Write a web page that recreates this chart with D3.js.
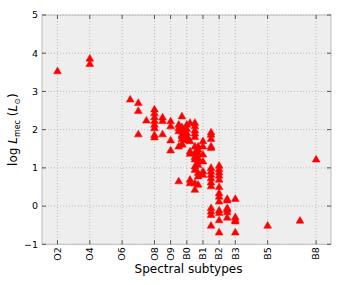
<!DOCTYPE html>
<meta charset="utf-8">
<head>
    <title>Spectral subtypes vs log L</title>
</head>
<script src="https://d3js.org/d3.v7.min.js"></script>
<style>
  body { margin: 0; background: #fff; }
  text { font-family: "DejaVu Sans", sans-serif; }
</style>
<div id="my_dataviz"></div>
<script>

// spectral subtype positions (O2 = 2 ... B0 = 10 ... B8 = 18)
var subtype = [2, 4, 4, 6.5, 7, 7, 7, 7.5,
  8, 8, 8, 8, 8, 8, 8, 8,
  8.5, 8.5, 8.5, 9, 9, 9, 9,
  9.5, 9.5, 9.5, 9.5, 9.5,
  9.7, 9.7, 9.7, 9.7, 9.7, 9.7, 9.7, 9.7,
  10, 10, 10, 10, 10, 10.1,
  10.2, 10.2, 10.2, 10.2, 10.2, 10.2,
  10.5, 10.5, 10.5, 10.5, 10.5, 10.5, 10.5, 10.5, 10.5, 10.5, 10.5, 10.5, 10.5,
  10.7, 10.7, 10.7, 10.7, 10.7, 10.7, 10.7, 10.7, 10.7,
  11, 11, 11, 11, 11, 11,
  11.5, 11.5, 11.5, 11.5, 11.5, 11.5, 11.5, 11.5, 11.5, 11.5, 11.5, 11.5, 11.5, 11.5, 11.5,
  12, 12, 12, 12, 12, 12, 12, 12, 12, 12, 12, 12, 12,
  12.5, 12.5, 12.5, 12.5, 12.5, 12.5,
  13, 13, 13, 13, 13,
  15, 17, 18];

// log L_mec values, same order as subtype
var logL = [3.52, 3.85, 3.71, 2.78, 2.69, 2.48, 1.87, 2.23,
  2.52, 2.42, 2.32, 2.22, 2.12, 2.03, 1.85, 1.79,
  2.31, 2.22, 1.87, 2.21, 2.08, 1.71, 1.45,
  2.12, 2.03, 1.95, 1.55, 0.64,
  2.34, 2.06, 1.95, 1.86, 1.82, 1.75, 1.62, 1.60,
  2.12, 2.01, 1.90, 1.82, 1.73, 1.71,
  2.17, 1.69, 1.42, 1.36, 0.68, 0.59,
  2.17, 2.08, 1.97, 1.89, 1.80, 1.55, 1.38, 1.28, 1.21, 1.03, 0.94, 0.59, 0.42,
  1.55, 1.47, 1.38, 1.25, 1.16, 1.07, 0.86, 0.77, 0.55,
  1.69, 1.55, 1.34, 1.16, 0.90, 0.81,
  1.92, 1.86, 1.75, 1.55, 1.51, 0.99, 0.90, 0.81, 0.72, 0.61, 0.51, -0.06, -0.15, -0.24, -0.52,
  1.05, 0.96, 0.87, 0.79, 0.68, 0.49, 0.33, 0.24, 0.11, -0.12, -0.19, -0.38, -0.70,
  0.18, 0.14, -0.06, -0.10, -0.17, -0.31,
  0.18, -0.30, -0.37, -0.41, -0.70,
  -0.52, -0.39, 1.21];

var xTickValues = [2, 4, 6, 8, 9, 10, 11, 12, 13, 15, 18];
var xTickLabels = ["O2", "O4", "O6", "O8", "O9", "B0", "B1", "B2", "B3", "B5", "B8"];
var yTickValues = [-1, 0, 1, 2, 3, 4, 5];

var width = 342,
    height = 285;

var svg = d3.select("#my_dataviz")
  .append("svg")
    .attr("width", width)
    .attr("height", height);

var xScale = d3.scaleLinear().domain([1, 19]).range([41.3, 332.3]);
var yScale = d3.scaleLinear().domain([-1, 5]).range([244.3, 15]);

var x0 = 42, x1 = 331, y0 = 15, y1 = 244.3;

// background
svg.append("rect")
  .attr("x", x0).attr("y", y0)
  .attr("width", x1 - x0).attr("height", y1 - y0)
  .attr("fill", "#eeeeee");

// grid
svg.selectAll(".vgrid").data(xTickValues).enter().append("line")
  .attr("x1", function(d){ return xScale(d) }).attr("x2", function(d){ return xScale(d) })
  .attr("y1", y0).attr("y2", y1)
  .attr("stroke", "#b0b0b0").attr("stroke-width", 0.8)
  .attr("stroke-dasharray", "1,2");
svg.selectAll(".hgrid").data(yTickValues).enter().append("line")
  .attr("y1", function(d){ return yScale(d) }).attr("y2", function(d){ return yScale(d) })
  .attr("x1", x0).attr("x2", x1)
  .attr("stroke", "#b0b0b0").attr("stroke-width", 0.8)
  .attr("stroke-dasharray", "1,2");

// points
var pts = d3.range(subtype.length);
svg.selectAll(".pt").data(pts).enter().append("path")
  .attr("d", d3.symbol().type(d3.symbolTriangle).size(26))
  .attr("transform", function(i){ return "translate(" + xScale(subtype[i]) + "," + yScale(logL[i]) + ")" })
  .attr("fill", "red")
  .attr("stroke", "red")
  .attr("stroke-width", 0.5);

// frame
svg.append("rect")
  .attr("x", x0).attr("y", y0)
  .attr("width", x1 - x0).attr("height", y1 - y0)
  .attr("fill", "none")
  .attr("stroke", "#bcbcbc").attr("stroke-width", 1);

// inward ticks on all sides
var tl = 4;
xTickValues.forEach(function(d){
  svg.append("line").attr("x1", xScale(d)).attr("x2", xScale(d))
    .attr("y1", y1).attr("y2", y1 - tl).attr("stroke", "#555");
  svg.append("line").attr("x1", xScale(d)).attr("x2", xScale(d))
    .attr("y1", y0).attr("y2", y0 + tl).attr("stroke", "#555");
});
yTickValues.forEach(function(d){
  svg.append("line").attr("y1", yScale(d)).attr("y2", yScale(d))
    .attr("x1", x0).attr("x2", x0 + tl).attr("stroke", "#555");
  svg.append("line").attr("y1", yScale(d)).attr("y2", yScale(d))
    .attr("x1", x1).attr("x2", x1 - tl).attr("stroke", "#555");
});

// tick labels
svg.selectAll(".xlab").data(xTickValues).enter().append("text")
  .attr("transform", function(d){ return "translate(" + xScale(d) + "," + (y1 + 3) + ") rotate(-90)" })
  .attr("text-anchor", "end")
  .attr("dy", "0.35em")
  .style("font-size", "9.5px")
  .text(function(d, i){ return xTickLabels[i] });

svg.selectAll(".ylab").data(yTickValues).enter().append("text")
  .attr("x", x0 - 4)
  .attr("y", function(d){ return yScale(d) })
  .attr("dy", "0.35em")
  .attr("text-anchor", "end")
  .style("font-size", "9.5px")
  .text(function(d){ return d < 0 ? "\u2212" + Math.abs(d) : d });

// axis labels
svg.append("text")
  .attr("x", (x0 + x1) / 2 + 2)
  .attr("y", 273)
  .attr("text-anchor", "middle")
  .style("font-size", "12px")
  .text("Spectral subtypes");

var ylab = svg.append("text")
  .attr("transform", "translate(17," + ((y0 + y1) / 2) + ") rotate(-90)")
  .attr("text-anchor", "middle")
  .style("font-size", "12px");
ylab.append("tspan").text("log ");
ylab.append("tspan").style("font-style", "italic").text("L");
ylab.append("tspan").attr("dy", 3).style("font-size", "8px").text("mec");
ylab.append("tspan").attr("dy", -3).text(" (");
ylab.append("tspan").style("font-style", "italic").text("L");
ylab.append("tspan").attr("dy", 3).style("font-size", "8px").text("\u2299");
ylab.append("tspan").attr("dy", -3).text(")");

</script>
